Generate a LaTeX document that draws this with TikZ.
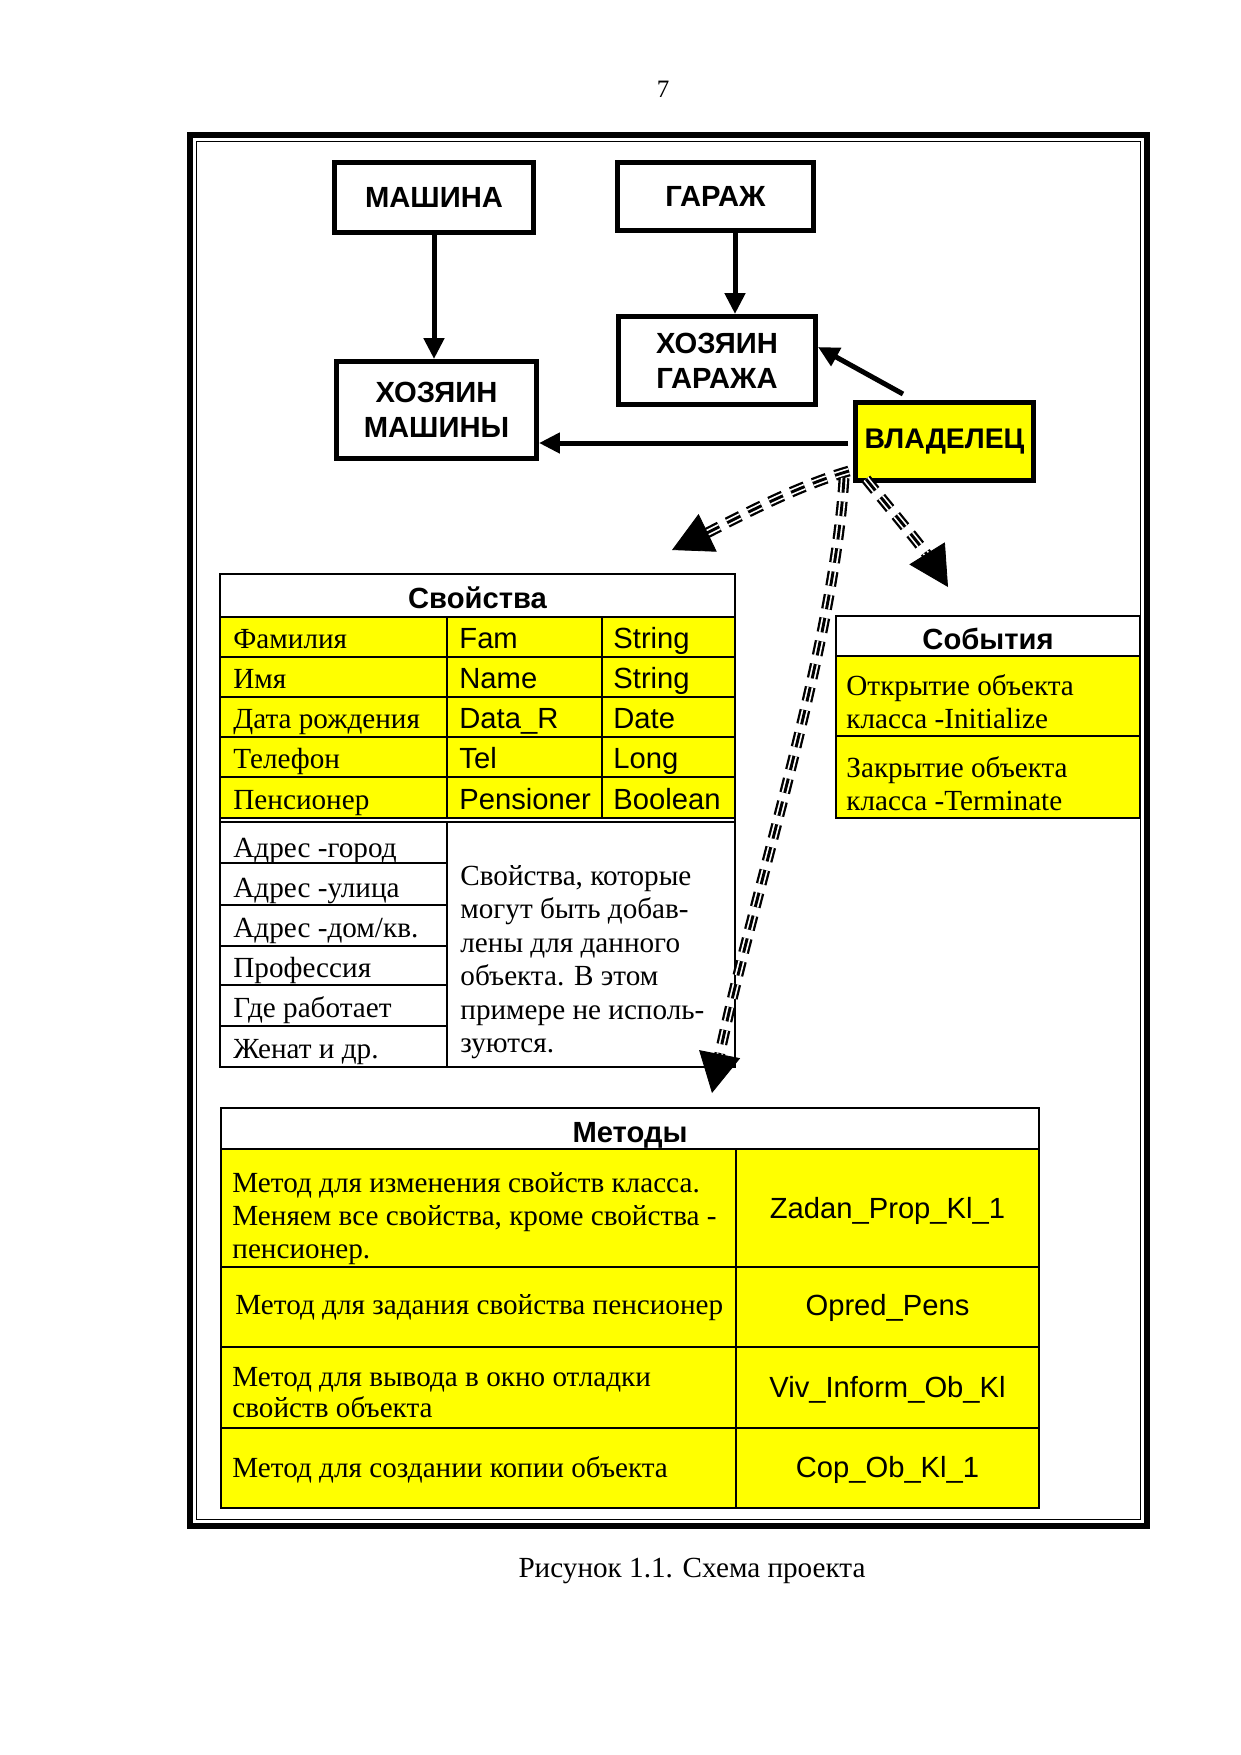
\documentclass[tikz,border=0pt]{standalone}
\usepackage{fontspec}
\setmainfont{Liberation Serif}
\newfontfamily\arialf{Liberation Sans}
\usetikzlibrary{arrows.meta,calc,decorations.markings}
\definecolor{ylw}{RGB}{255,255,0}
\newdimen\px \px=0.47968pt
\newcount\tlcnt
\newcommand\txtline[3][]{\global\advance\tlcnt by 1\relax\node[tline,#1] (tl\the\tlcnt) at (#2) {#3};}
\newcommand\stripedarrow[1]{\draw[stripeA] #1; \draw[stripeB] #1; \draw[stripeC] #1; \path[bighead] #1;}
\begin{document}
\begin{tikzpicture}[x=0.47968pt,y=-0.47968pt,
  tline/.style={anchor=base west, inner sep=0, font=\fontsize{14}{16}\selectfont},
  sansline/.style={font=\arialf\fontsize{14}{16}\selectfont},
  sanscen/.style={anchor=base, font=\arialf\fontsize{14}{16}\selectfont},
  head/.style={anchor=base, font=\arialf\bfseries\fontsize{14}{16}\selectfont},
  box/.style={draw, line width=2.4pt, inner sep=0, align=center, font=\arialf\bfseries\fontsize{14}{16.8}\selectfont},
  solidarrow/.style={line width=2.4pt, -{Triangle[length=10pt,width=9.5pt]}},
  grid/.style={line width=0.7pt},
  stripeA/.style={line width=5.2pt, dash pattern=on 7pt off 4.3pt, shorten >=12pt},
  stripeB/.style={white, line width=3.0pt, dash pattern=on 7pt off 4.3pt, shorten >=12pt},
  stripeC/.style={line width=1.4pt, dash pattern=on 7pt off 4.3pt, shorten >=12pt},
  bighead/.style={decoration={markings, mark=at position 1 with {\arrow{Triangle[length=19pt,width=20pt]}}}, decorate},
]
\useasboundingbox (0,0) rectangle (1241,1755);

% page number
\node[anchor=base, inner sep=0, font=\fontsize{12}{14}\selectfont] (pnum) at (663,97) {7};

% frame
\draw[line width=2.9pt] (190,135) rectangle (1147,1526);
\draw[line width=0.7pt] (196.5,141.5) rectangle (1140.5,1519.5);

% boxes
\node[box, minimum width=199\px, minimum height=70\px] (mash) at (434,197.5) {МАШИНА};
\node[box, minimum width=196\px, minimum height=68\px] (gar) at (715.5,196.5) {ГАРАЖ};
\node[box, minimum width=200\px, minimum height=97\px] (hozm) at (436.5,410) {ХОЗЯИН\\МАШИНЫ};
\node[box, minimum width=197\px, minimum height=88\px] (hozg) at (717,360.5) {ХОЗЯИН\\ГАРАЖА};
\node[box, fill=ylw, minimum width=178\px, minimum height=78\px, font=\arialf\bfseries\fontsize{13.6}{16}\selectfont] (vlad) at (944.5,441.5) {ВЛАДЕЛЕЦ};

% solid arrows
\draw[solidarrow] (mash.south) -- (hozm.north -| mash.south);
\draw[solidarrow] ($(gar.south)+(19.5,0)$) -- ($(hozg.north)+(18,0)$);
\draw[solidarrow] ($(vlad.north)+(-41.5,-6)$) -- ($(hozg.east)+(0,-13.5)$);
\draw[solidarrow] ($(vlad.west)+(-5,1.5)$) -- ($(hozm.east)+(0,33)$);

% ---------- Свойства ----------
\fill[ylw] (220,617) rectangle (735,818);
\draw[grid] (220,574) rectangle (735,1067);
\foreach \yy in {617,657,697,737,777,818,822} \draw[grid] (220,\yy) -- (735,\yy);
\draw[grid] (447,617) -- (447,818);
\draw[grid] (602,617) -- (602,818);
\draw[grid] (447,822) -- (447,1067);
\foreach \yy in {863,905,946,985,1026} \draw[grid] (220,\yy) -- (447,\yy);
\draw[line width=1.2pt] (735,574) -- (735,862);

\txtline[head]{477.5,608}{Свойства}
\txtline{233,648}{Фамилия}
\txtline[sansline]{459,648}{Fam}
\txtline[sansline]{613,648}{String}
\txtline{233,688}{Имя}
\txtline[sansline]{459,688}{Name}
\txtline[sansline]{613,688}{String}
\txtline{233,728}{Дата рождения}
\txtline[sansline]{459,728}{Data\_R}
\txtline[sansline]{613,728}{Date}
\txtline{233,768}{Телефон}
\txtline[sansline]{459,768}{Tel}
\txtline[sansline]{613,768}{Long}
\txtline{233,809}{Пенсионер}
\txtline[sansline]{459,809}{Pensioner}
\txtline[sansline]{613,809}{Boolean}

\txtline{233,857}{Адрес -город}
\txtline{233,897}{Адрес -улица}
\txtline{233,937}{Адрес -дом/кв.}
\txtline{233,977}{Профессия}
\txtline{233,1017}{Где работает}
\txtline{233,1058}{Женат и др.}

\txtline{460,885}{Свойства, которые}
\txtline{460,918}{могут быть добав-}
\txtline{460,952}{лены для данного}
\txtline{460,985}{объекта. В этом}
\txtline{460,1019}{примере не исполь-}
\txtline{460,1052}{зуются.}

% ---------- События ----------
\fill[ylw] (836,656) rectangle (1140,818);
\draw[grid] (836,616) rectangle (1140,818);
\draw[grid] (836,656) -- (1140,656);
\draw[grid] (836,736) -- (1140,736);
\txtline[head]{988,649}{События}
\txtline{846,695}{Открытие объекта}
\txtline{846,728}{класса -Initialize}
\txtline{846,777}{Закрытие объекта}
\txtline{846,810}{класса -Terminate}

% ---------- Методы ----------
\fill[ylw] (221,1149) rectangle (1039,1508);
\draw[grid] (221,1108) rectangle (1039,1508);
\foreach \yy in {1149,1267,1347,1428} \draw[grid] (221,\yy) -- (1039,\yy);
\draw[grid] (736,1149) -- (736,1508);
\txtline[head]{630,1142}{Методы}
\txtline{232,1192}{Метод для изменения свойств класса.}
\txtline{232,1225}{Меняем все свойства, кроме свойства -}
\txtline{232,1258}{пенсионер.}
\txtline{235,1314}{Метод для задания свойства пенсионер}
\txtline{232,1386}{Метод для вывода в окно отладки}
\txtline{232,1417}{свойств объекта}
\txtline{232,1477}{Метод для создании копии объекта}
\txtline[sanscen]{887.5,1218}{Zadan\_Prop\_Kl\_1}
\txtline[sanscen]{887.5,1315}{Opred\_Pens}
\txtline[sanscen]{887.5,1397}{Viv\_Inform\_Ob\_Kl}
\txtline[sanscen]{887.5,1477}{Cop\_Ob\_Kl\_1}

% ---------- dashed arrows ----------
\coordinate (sL) at ($(vlad.south west)+(-4,-12)$);
\coordinate (sM) at ($(vlad.south west)+(-9,-5)$);
\coordinate (sR) at ($(vlad.south west)+(13,-4)$);
\coordinate (tipL) at (672,550);
\coordinate (tipM) at (712,1093);
\coordinate (tipR) at (948,587);
\stripedarrow{(sL) .. controls (790,488) and (726,524) .. (tipL)}
\stripedarrow{(sM) .. controls (834,650) and (748,910) .. (tipM)}
\stripedarrow{(sR) .. controls (895,515) and (925,550) .. (tipR)}

% caption
\node[anchor=base, inner sep=0, font=\fontsize{14}{16}\selectfont] (cap) at (692,1577) {Рисунок 1.1. Схема проекта};
\end{tikzpicture}
\end{document}
